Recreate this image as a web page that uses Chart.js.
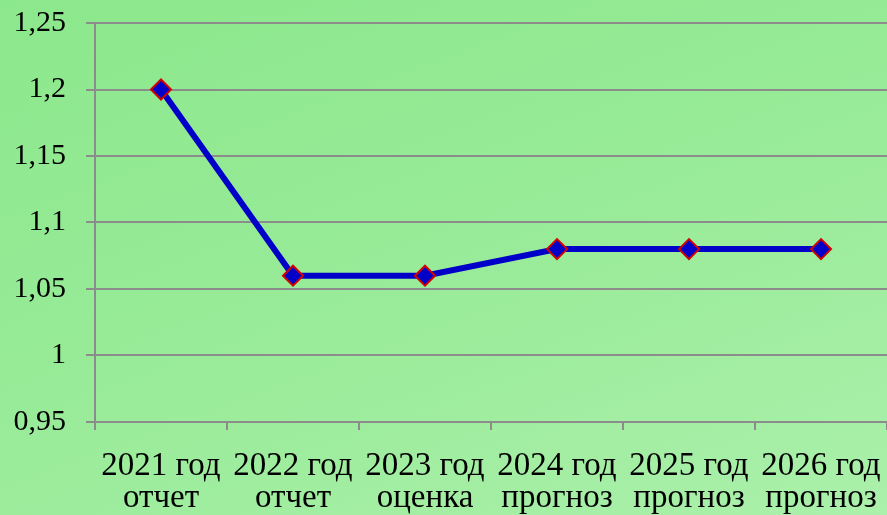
<!DOCTYPE html>
<html><head><meta charset="utf-8">
<script src="https://cdn.jsdelivr.net/npm/chart.js@4/dist/chart.umd.min.js"></script>
<style>
html,body{margin:0;padding:0;}
body{width:887px;height:515px;overflow:hidden;background:linear-gradient(160deg,#8ce88c 0%,#98eb98 50%,#abf0ab 100%);}
#wrap{width:887px;height:515px;position:relative;}
</style></head>
<body><div id="wrap"><canvas id="c" width="887" height="515"></canvas></div>
<script>
const categories = [["2021 год","отчет"],["2022 год","отчет"],["2023 год","оценка"],["2024 год","прогноз"],["2025 год","прогноз"],["2026 год","прогноз"]];
const values = [1.2, 1.06, 1.06, 1.08, 1.08, 1.08];
const yTicks = [0.95, 1, 1.05, 1.1, 1.15, 1.2, 1.25];

const fmt = v => String(Math.round(v*100)/100).replace('.', ',');

new Chart(document.getElementById('c'), {
  type: 'line',
  data: {
    labels: categories,
    datasets: [{
      data: values,
      borderColor: '#0000c8',
      borderWidth: 6,
      backgroundColor: '#0000c8',
      pointStyle: 'rectRot',
      pointRadius: 10,
      pointHoverRadius: 10,
      pointBackgroundColor: '#0000c8',
      pointBorderColor: '#d40000',
      pointBorderWidth: 2,
      tension: 0,
      fill: false
    }]
  },
  options: {
    responsive: false,
    animation: false,
    layout: { autoPadding: false, padding: { top: 23, right: 0, left: 0, bottom: 0 } },
    plugins: { legend: { display: false }, tooltip: { enabled: false } },
    scales: {
      x: {
        type: 'category',
        offset: true,
        grid: { offset: true, drawOnChartArea: false, drawTicks: true, tickLength: 8, color: '#8c8c8c', lineWidth: 2 },
        border: { display: true, color: '#8c8c8c', width: 2 },
        ticks: { color: '#000', padding: 20, maxRotation: 0, autoSkip: false,
          font: { family: '"Liberation Serif", "Times New Roman", serif', size: 33, lineHeight: 0.97 } },
        afterFit: s => {
          s.height = 93;
          s.paddingLeft = 0; s.paddingRight = 0;
        }
      },
      y: {
        min: 0.95, max: 1.25,
        afterBuildTicks: s => { s.ticks = yTicks.map(v => ({ value: v })); },
        grid: { color: '#8c8c8c', lineWidth: 2, drawTicks: true, tickLength: 9 },
        border: { display: true, color: '#8c8c8c', width: 2 },
        ticks: { color: '#000', padding: 20, callback: v => fmt(v),
          font: { family: '"Liberation Serif", "Times New Roman", serif', size: 30 } },
        afterFit: s => { s.width = 95; s.paddingTop = 0; s.paddingBottom = 0; }
      }
    }
  }
});
</script></body></html>
